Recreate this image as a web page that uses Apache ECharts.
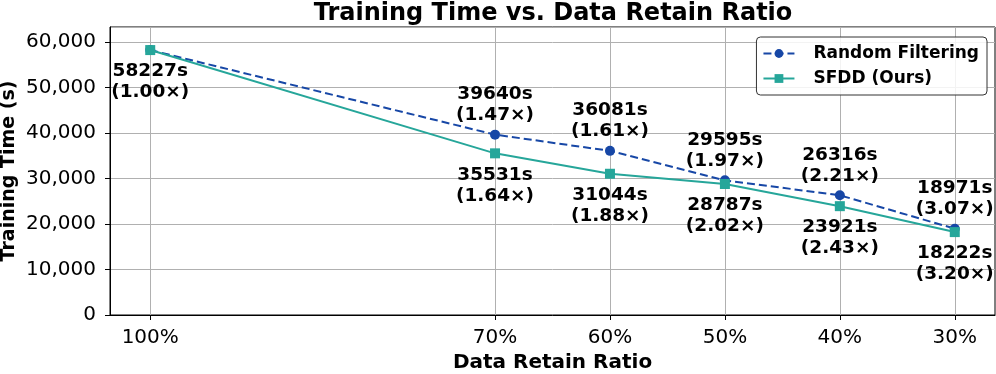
<!DOCTYPE html>
<html>
<head>
<meta charset="utf-8">
<script src="https://cdn.jsdelivr.net/npm/echarts@6/dist/echarts.min.js"></script>
<style>
  html, body { margin: 0; padding: 0; background: #fff; }
  #chart { width: 996px; height: 374px; }
</style>
</head>
<body>
<div id="chart"></div>
<script>
// data
var retainRatios = [100, 70, 60, 50, 40, 30]; // %
var randomTimes = [58227, 39640, 36081, 29595, 26316, 18971]; // s
var randomSpeedups = ["1.00", "1.47", "1.61", "1.97", "2.21", "3.07"];
var sfddTimes = [58227, 35531, 31044, 28787, 23921, 18222]; // s
var sfddSpeedups = ["1.00", "1.64", "1.88", "2.02", "2.43", "3.20"];

var FONT = "DejaVu Sans";
var BLUE = "#1747a6";
var TEAL = "#26a69a";

function pairs(times, hideFirstLabel) {
  return retainRatios.map(function (r, i) {
    var item = { value: [r, times[i]] };
    if (hideFirstLabel && i === 0) item.label = { show: false };
    return item;
  });
}

function labelFor(times, speedups) {
  return function (p) {
    return times[p.dataIndex] + "s\n(" + speedups[p.dataIndex] + "\u00d7)";
  };
}

var labelText = {
  fontFamily: FONT,
  fontWeight: "bold",
  fontSize: 18.5,
  lineHeight: 21,
  color: "#000"
};

var chart = echarts.init(document.getElementById("chart"));
var option = {
  backgroundColor: "#fff",
  animation: false,
  title: {
    text: "Training Time vs. Data Retain Ratio",
    left: 553,
    textAlign: "center",
    top: 2,
    padding: 0,
    textStyle: { fontFamily: FONT, fontWeight: "bold", fontSize: 24, color: "#000" }
  },
  legend: {
    orient: "vertical",
    right: 9,
    top: 37,
    padding: [6, 8, 6, 6],
    itemGap: 4,
    itemWidth: 31,
    itemHeight: 11,
    backgroundColor: "rgba(255,255,255,0.85)",
    borderColor: "#333",
    borderWidth: 1,
    borderRadius: 4,
    textStyle: {
      fontFamily: FONT,
      fontWeight: "bold",
      fontSize: 17,
      lineHeight: 21,
      color: "#000",
      padding: [0, 0, 0, 14]
    },
    data: ["Random Filtering", "SFDD (Ours)"]
  },
  grid: {
    left: 110,
    right: 1,
    top: 27,
    bottom: 59,
    outerBoundsMode: "none",
    show: true,
    borderColor: "#000",
    borderWidth: 1
  },
  xAxis: {
    type: "value",
    inverse: true,
    min: 26.5,
    max: 103.5,
    name: "Data Retain Ratio",
    nameLocation: "middle",
    nameGap: 38,
    nameMoveOverlap: false,
    nameTextStyle: { fontFamily: FONT, fontWeight: "bold", fontSize: 20, color: "#000" },
    axisLine: { lineStyle: { color: "#000", width: 1 } },
    axisTick: { customValues: retainRatios, length: 5, lineStyle: { color: "#000" } },
    axisLabel: {
      customValues: retainRatios,
      margin: 13,
      fontFamily: FONT,
      fontSize: 20,
      color: "#000",
      formatter: function (v) { return v + "%"; }
    },
    splitLine: { show: true, lineStyle: { color: "#b0b0b0", width: 1 } }
  },
  yAxis: {
    type: "value",
    min: 0,
    max: 63300,
    interval: 10000,
    name: "Training Time (s)",
    nameLocation: "middle",
    nameGap: 91,
    nameMoveOverlap: false,
    nameTextStyle: { fontFamily: FONT, fontWeight: "bold", fontSize: 19, color: "#000" },
    axisLine: { show: true, lineStyle: { color: "#000", width: 1 } },
    axisTick: { show: true, length: 5, lineStyle: { color: "#000" } },
    axisLabel: {
      margin: 14,
      fontFamily: FONT,
      fontSize: 20,
      color: "#000",
      showMaxLabel: false,
      formatter: function (v) { return v.toLocaleString("en-US"); }
    },
    splitLine: { show: true, lineStyle: { color: "#b0b0b0", width: 1 } }
  },
  series: [
    {
      name: "Random Filtering",
      type: "line",
      data: pairs(randomTimes, true),
      symbol: "circle",
      symbolSize: 10,
      itemStyle: { color: BLUE },
      lineStyle: { color: BLUE, width: 2, type: [8, 4] },
      label: Object.assign({
        show: true,
        position: "top",
        distance: 4,
        formatter: labelFor(randomTimes, randomSpeedups)
      }, labelText),
      z: 2
    },
    {
      name: "SFDD (Ours)",
      type: "line",
      data: pairs(sfddTimes, false),
      symbol: "rect",
      symbolSize: 10,
      itemStyle: { color: TEAL },
      lineStyle: { color: TEAL, width: 2 },
      label: Object.assign({
        show: true,
        position: "bottom",
        distance: 6,
        formatter: labelFor(sfddTimes, sfddSpeedups)
      }, labelText),
      z: 3
    }
  ]
};
chart.setOption(option);
</script>
</body>
</html>
